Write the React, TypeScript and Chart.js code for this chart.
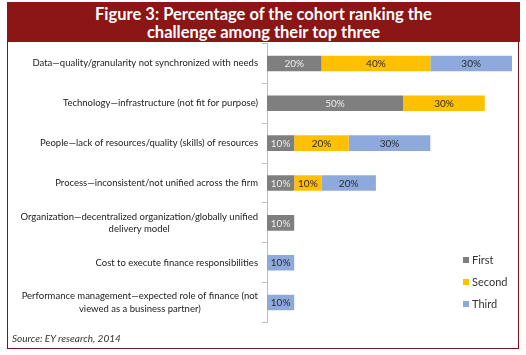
import React, { useEffect, useRef } from "react";
import { Chart, registerables } from "chart.js";

Chart.register(...registerables);

const categories: (string | string[])[] = [
  "Data\u2014quality/granularity not synchronized with needs",
  "Technology\u2014infrastructure (not fit for purpose)",
  "People\u2014lack of resources/quality (skills) of resources",
  "Process\u2014inconsistent/not unified across the firm",
  ["Organization\u2014decentralized organization/globally unified", "delivery model"],
  "Cost to execute finance responsibilities",
  ["Performance management\u2014expected role of finance (not", "viewed as a business partner)"],
];
const seriesNames = ["First", "Second", "Third"];
const firstValues = [20, 50, 10, 10, 10, null, null];
const secondValues = [40, 30, 20, 10, null, null, null];
const thirdValues = [30, null, 30, 20, null, 10, 10];
const titleLines = ["Figure 3: Percentage of the cohort ranking the", "challenge among their top three"];
const sourceText = "Source: EY research, 2014";

const colors = ["#7f7f7f", "#ffc000", "#8eaadc"];
const labelColors = ["#ececec", "#2a2a2a", "#2a2a2a"];
const FONT = "Lato, 'Open Sans', sans-serif";

const drawPlugin = {
  id: "customDraw",
  afterDraw(chart: any) {
    const ctx = chart.ctx;
    const area = chart.chartArea;
    const yScale = chart.scales.y;
    ctx.save();
    // category labels
    ctx.font = `9.5px ${FONT}`;
    ctx.fillStyle = "#222";
    ctx.textBaseline = "middle";
    ctx.textAlign = "center";
    const rightEdge = area.left - 9;
    const lh = 12.5;
    categories.forEach((lab, i) => {
      const lines = Array.isArray(lab) ? lab : [lab];
      const w = Math.max(...lines.map((l) => ctx.measureText(l).width));
      const cy = yScale.getPixelForValue(i);
      const x = rightEdge - w / 2;
      lines.forEach((l, j) => {
        const y = cy + (j - (lines.length - 1) / 2) * lh;
        ctx.fillText(l, x, y);
      });
    });
    // data labels
    ctx.font = `10px ${FONT}`;
    chart.data.datasets.forEach((ds: any, di: number) => {
      const meta = chart.getDatasetMeta(di);
      meta.data.forEach((el: any, i: number) => {
        const v = ds.data[i];
        if (v == null || v === 0) return;
        const cx = (el.x + el.base) / 2;
        ctx.fillStyle = labelColors[di];
        ctx.fillText(`${v}%`, cx, el.y + 0.5);
      });
    });
    // legend
    ctx.font = `11px ${FONT}`;
    ctx.textAlign = "left";
    const legX = 463;
    const legY = [260, 282, 304];
    seriesNames.forEach((n, i) => {
      ctx.fillStyle = colors[i];
      ctx.fillRect(legX, legY[i] - 3, 6, 6);
      ctx.fillStyle = "#333";
      ctx.fillText(n, legX + 9, legY[i] + 0.5);
    });
    ctx.restore();
  },
};

function ChartCanvas() {
  const ref = useRef<HTMLCanvasElement | null>(null);
  useEffect(() => {
    if (!ref.current) return;
    const chart = new Chart(ref.current, {
      type: "bar",
      data: {
        labels: categories.map((c) => (Array.isArray(c) ? c.join(" ") : c)),
        datasets: [
          { label: seriesNames[0], data: firstValues, backgroundColor: colors[0] },
          { label: seriesNames[1], data: secondValues, backgroundColor: colors[1] },
          { label: seriesNames[2], data: thirdValues, backgroundColor: colors[2] },
        ],
      },
      options: {
        indexAxis: "y",
        animation: false,
        responsive: false,
        events: [],
        layout: { padding: { left: 257, right: 14, top: 43.5, bottom: 32.5 } },
        datasets: { bar: { categoryPercentage: 1, barPercentage: 0.39 } },
        plugins: { legend: { display: false }, tooltip: { enabled: false } },
        scales: {
          x: { stacked: true, display: false, min: 0, max: 90 },
          y: {
            stacked: true,
            ticks: { display: false },
            grid: {
              offset: true,
              drawOnChartArea: false,
              drawTicks: true,
              tickLength: 5,
              color: "#bfbfbf",
            },
            border: { display: true, color: "#bfbfbf", width: 1 },
            afterFit: (scale: any) => {
              scale.width = 10;
            },
          },
        },
      } as any,
      plugins: [drawPlugin],
    });
    return () => chart.destroy();
  }, []);
  return (
    <canvas
      ref={ref}
      width={526}
      height={355}
      style={{ position: "absolute", left: 0, top: 0, width: 526, height: 355 }}
    />
  );
}

export default function App() {
  return (
    <div
      style={{
        position: "fixed",
        left: 0,
        top: 0,
        width: 526,
        height: 355,
        background: "#fff",
        overflow: "hidden",
      }}
    >
      <div
        style={{
          position: "absolute",
          left: 7,
          top: 2,
          width: 510,
          height: 345,
          border: "1.5px solid #7a1418",
        }}
      />
      <div
        style={{
          position: "absolute",
          left: 7,
          top: 2,
          width: 513,
          height: 40,
          background: "#8c1515",
          color: "#fff",
          fontFamily: FONT,
          fontWeight: 700,
          fontSize: 16.5,
          lineHeight: "18px",
          textAlign: "center",
          paddingTop: 3,
          boxSizing: "border-box",
        }}
      >
        {titleLines.map((t, i) => (
          <div key={i}>{t}</div>
        ))}
      </div>
      <ChartCanvas />
      <div
        style={{
          position: "absolute",
          left: 12,
          top: 331,
          fontFamily: FONT,
          fontStyle: "italic",
          fontSize: 10,
          color: "#333",
          lineHeight: "14px",
        }}
      >
        {sourceText}
      </div>
    </div>
  );
}
